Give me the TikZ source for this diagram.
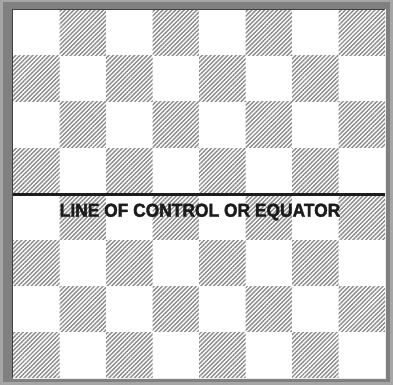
\documentclass[tikz,border=0pt]{standalone}
\usepackage{fontspec}
\setmainfont{Liberation Sans}
\newfontfamily\labelfont[FakeBold=2]{Liberation Sans Bold}
\usetikzlibrary{patterns.meta}
\definecolor{frameouter}{HTML}{A6A6A6}
\definecolor{frameinner}{HTML}{808080}
\definecolor{hatchgray}{HTML}{8C8C8C}
\definecolor{inkdark}{HTML}{1C1C1C}
\tikzset{
  lightsq/.style={fill=white},
  darksq/.style={pattern={Lines[angle=45,distance=3pt,line width=1.4pt]},pattern color=hatchgray},
  equatorline/.style={draw=inkdark,line width=3pt},
  labeltext/.style={font=\labelfont\fontsize{18.7}{20}\selectfont,text=inkdark,inner sep=0pt}
}
\begin{document}
\begin{tikzpicture}[x=1pt,y=-1pt]
\useasboundingbox (0,0) rectangle (393,385);
% frame
\fill[frameouter] (0,0) rectangle (393,385);
\fill[frameinner] (2.5,2.5) rectangle (390,382);
% board squares
\foreach \r in {0,...,7}{
  \foreach \c in {0,...,7}{
    \pgfmathtruncatemacro{\parity}{mod(\r+\c,2)}
    \ifnum\parity=0
      \fill[lightsq] ({13+46.5*\c},{10+46*\r}) rectangle ({13+46.5*(\c+1)},{10+46*(\r+1)});
    \else
      \fill[white] ({13+46.5*\c},{10+46*\r}) rectangle ({13+46.5*(\c+1)},{10+46*(\r+1)});
      \fill[darksq] ({13+46.5*\c},{10+46*\r}) rectangle ({13+46.5*(\c+1)},{10+46*(\r+1)});
    \fi
  }
}
% bevel edges
\draw[draw=black!75,line width=1pt] (12.5,378) -- (12.5,9.5) -- (385.5,9.5);
\draw[draw=white!85!gray,line width=1pt] (12.5,378.5) -- (385.5,378.5) -- (385.5,9.5);
% equator
\coordinate (eqL) at (13,194);
\coordinate (eqR) at (385,194);
\draw[equatorline] (eqL) -- (eqR);
\node[labeltext,anchor=base] (eqlabel) at (200,216.7) {\scalebox{0.93}[1]{LINE OF CONTROL OR EQUATOR}};
\end{tikzpicture}
\end{document}
